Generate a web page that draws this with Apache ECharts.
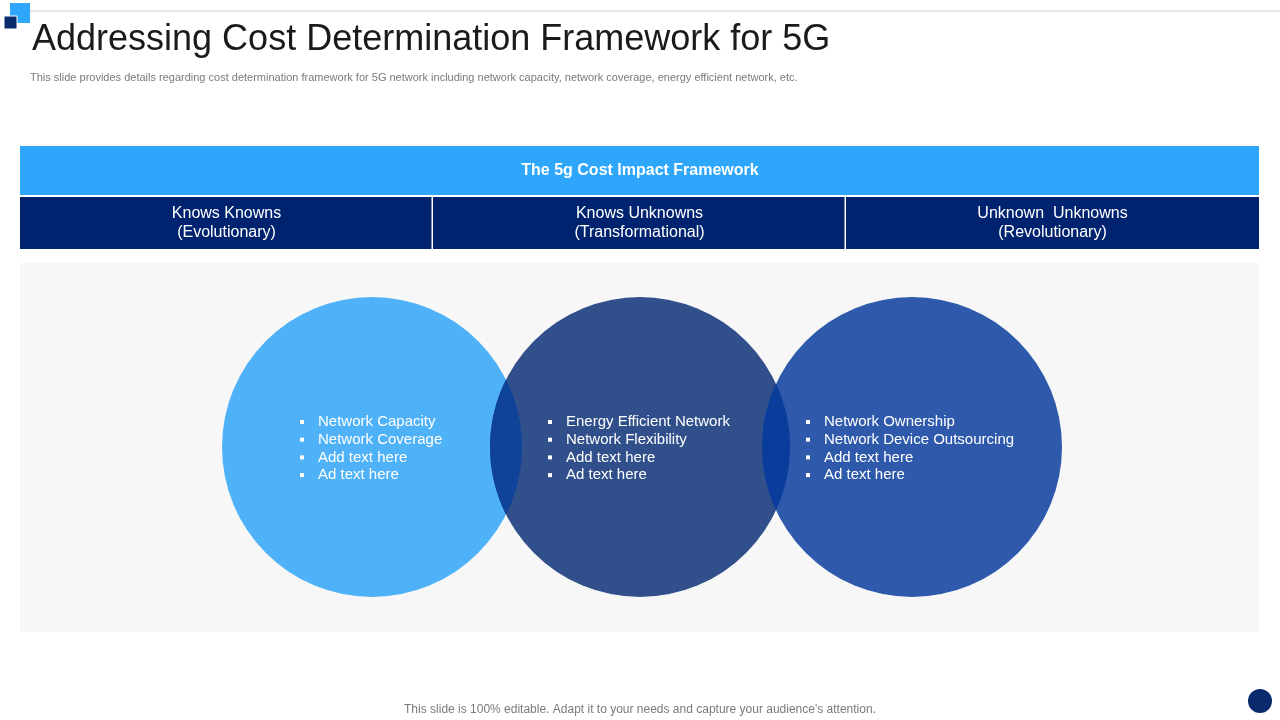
<!DOCTYPE html>
<html><head><meta charset="utf-8">
<script src="https://cdn.jsdelivr.net/npm/echarts@6/dist/echarts.min.js"></script>
<style>html,body{margin:0;padding:0;background:#fff}#c{width:1280px;height:720px}</style>
</head><body><div id="c"></div>
<script>
const title = "Addressing Cost Determination Framework for 5G";
const subtitle = "This slide provides details regarding cost determination framework for 5G network including network capacity, network coverage, energy efficient network, etc.";
const header = "The 5g Cost Impact Framework";
const categories = ["Knows Knowns\n(Evolutionary)", "Knows Unknowns\n(Transformational)", "Unknown  Unknowns\n(Revolutionary)"];
const items1 = ["Network Capacity", "Network Coverage", "Add text here", "Ad text here"];
const items2 = ["Energy Efficient Network", "Network Flexibility", "Add text here", "Ad text here"];
const items3 = ["Network Ownership", "Network Device Outsourcing", "Add text here", "Ad text here"];
const footer = "This slide is 100% editable. Adapt it to your needs and capture your audience's attention.";

const FONT = 'Liberation Sans, Arial, sans-serif';
const chart = echarts.init(document.getElementById('c'));
const g = [];
g.push({type:'line',shape:{x1:30,y1:11,x2:1280,y2:11},style:{stroke:'#d0d0d0',lineWidth:1}});
g.push({type:'rect',shape:{x:10,y:3,width:20,height:20},style:{fill:'#2EA6FB'}});
g.push({type:'rect',shape:{x:4,y:16,width:13,height:13},style:{fill:'#0A2A6E',stroke:'#fff',lineWidth:1}});
g.push({type:'text',x:32,y:22,style:{text:title,font:'36px '+FONT,fill:'#1a1a1a'}});
g.push({type:'text',x:30,y:72,style:{text:subtitle,font:'11px '+FONT,fill:'#7a7a7a'}});
g.push({type:'rect',shape:{x:20,y:146,width:1239,height:49},style:{fill:'#2EA6FB'}});
g.push({type:'text',x:640,y:171,style:{text:header,font:'bold 16px '+FONT,fill:'#fff',align:'center',verticalAlign:'middle'}});
const cw = 1239/3;
categories.forEach((c,i)=>{
  g.push({type:'rect',shape:{x:20+i*cw,y:197,width:cw-(i<2?1.5:0),height:52},style:{fill:'#002370'}});
  g.push({type:'text',x:20+i*cw+cw/2,y:223,style:{text:c,font:'16px '+FONT,fill:'#fff',align:'center',verticalAlign:'middle',lineHeight:19}});
});
g.push({type:'rect',shape:{x:20,y:263,width:1239,height:369},style:{fill:'#F7F7F7'}});
const R=150, cy=447, cx=[372,640,912], cols=['#4FB1F8','#31508B','#2F5AAB'];
cx.forEach((x,i)=>g.push({type:'circle',shape:{cx:x,cy:cy,r:R},style:{fill:cols[i]}}));
function lens(a,b){
  const d=b-a, xm=(a+b)/2, h=Math.sqrt(R*R-(d/2)*(d/2));
  const t=Math.asin(h/R), pts=[];
  for(let k=0;k<=30;k++){const ang=-t+2*t*k/30; pts.push([a+R*Math.cos(ang),cy+R*Math.sin(ang)]);}
  for(let k=0;k<=30;k++){const ang=Math.PI+t-2*t*k/30; pts.push([b+R*Math.cos(ang),cy+R*Math.sin(ang)]);}
  return pts;
}
g.push({type:'polygon',shape:{points:lens(cx[0],cx[1])},style:{fill:'#0E4399'}});
g.push({type:'polygon',shape:{points:lens(cx[1],cx[2])},style:{fill:'#0A3C9C'}});
[[items1,300],[items2,548],[items3,806]].forEach(([arr,bx])=>{
  arr.forEach((t,j)=>{
    const y=422+j*17.7;
    g.push({type:'rect',shape:{x:bx,y:y-2,width:4,height:4},style:{fill:'#fff'}});
    g.push({type:'text',x:bx+18,y:y,style:{text:t,font:'15px '+FONT,fill:'#fff',verticalAlign:'middle'}});
  });
});
g.push({type:'text',x:640,y:710,style:{text:footer,font:'12px '+FONT,fill:'#7a7a7a',align:'center',verticalAlign:'middle'}});
g.push({type:'circle',shape:{cx:1260,cy:701,r:12},style:{fill:'#0A2A6E'}});
chart.setOption({animation:false,graphic:g});
</script></body></html>
